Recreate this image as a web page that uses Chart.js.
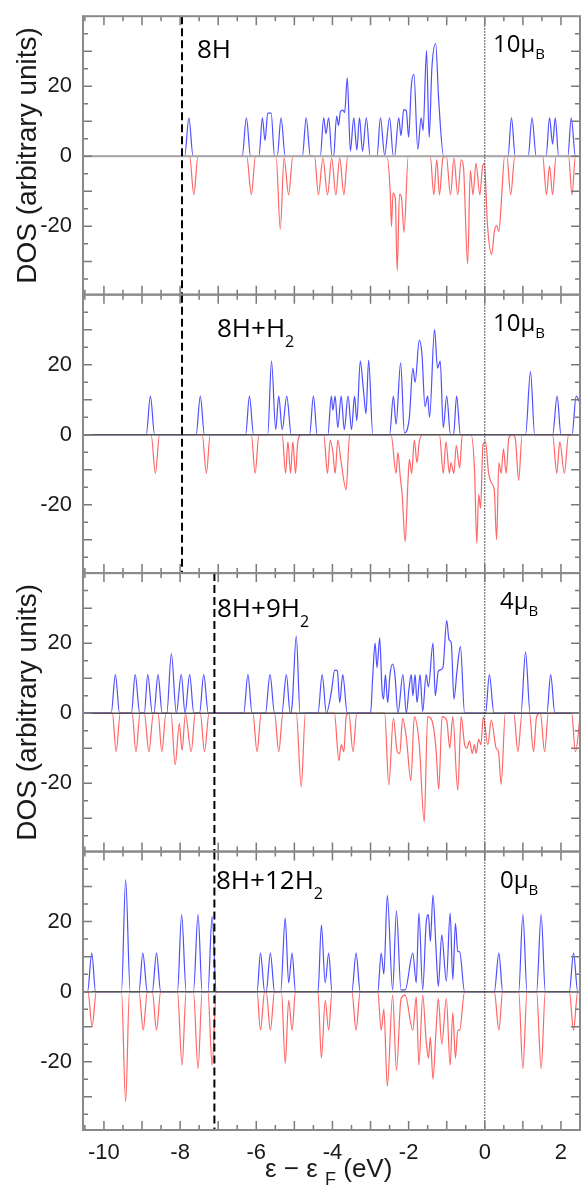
<!DOCTYPE html>
<html>
<head>
<meta charset="utf-8">
<title>DOS</title>
<script src="https://cdn.jsdelivr.net/npm/chart.js@4.4.1/dist/chart.umd.min.js"></script>
<style>
	html, body { margin: 0; padding: 0; background: #fff; }
	#wrap { position: relative; width: 581px; height: 1185px; }
</style>
</head>
<body>
<div id="wrap"><canvas id="dos" width="581" height="1185"></canvas></div>
<script>
// values: [energy (eV), DOS]
const up8H = [[-10.55,0],[-7.88,0],[-7.77,11],[-7.66,0],[-6.37,0],[-6.26,11],[-6.15,0],[-5.93,0],[-5.84,11],[-5.77,4.5],[-5.70,12.3],[-5.61,12.3],[-5.52,0],[-5.45,0],[-5.35,11],[-5.24,0],[-4.79,0],[-4.69,11],[-4.58,0],[-4.32,0],[-4.23,11],[-4.17,6.5],[-4.10,11],[-4.01,0],[-3.97,0],[-3.89,11.5],[-3.84,8.8],[-3.79,12.8],[-3.73,13.2],[-3.68,12.5],[-3.61,22.4],[-3.53,1.5],[-3.44,11],[-3.36,1.8],[-3.29,11],[-3.21,1.5],[-3.11,11],[-3.01,0],[-2.83,0],[-2.74,11],[-2.63,0.3],[-2.50,11],[-2.40,0],[-2.37,0],[-2.26,11],[-2.20,5.9],[-2.13,13.3],[-2.06,13],[-2.00,5.5],[-1.93,20],[-1.86,23.4],[-1.76,2],[-1.67,11],[-1.62,7.4],[-1.53,30.2],[-1.46,5.4],[-1.39,25],[-1.29,32.2],[-1.21,16],[-1.08,0],[0.61,0],[0.70,11],[0.80,0],[1.14,0],[1.24,11],[1.35,0],[1.61,0],[1.70,11],[1.78,3.5],[1.85,11],[1.94,0],[2.18,0],[2.27,11],[2.38,0],[2.5,0]];
const down8H = [[-10.55,0],[-7.75,0],[-7.64,-11],[-7.53,0],[-6.25,0],[-6.13,-11],[-6.02,0],[-5.48,0],[-5.37,-20.8],[-5.27,-0.5],[-5.15,-11],[-5.04,0],[-4.47,0],[-4.37,-11],[-4.25,-0.5],[-4.13,-11],[-4.02,-0.5],[-3.91,-11],[-3.81,-0.5],[-3.70,-11],[-3.60,0],[-2.57,0],[-2.48,-10.8],[-2.45,-20],[-2.41,-10.5],[-2.35,-12],[-2.30,-32.7],[-2.24,-10.8],[-2.19,-11.5],[-2.12,-21.7],[-2.01,0],[-1.43,0],[-1.34,-11],[-1.26,-1],[-1.19,-11],[-1.10,-0.5],[-1.01,0],[-0.90,-11],[-0.81,-0.5],[-0.71,-11],[-0.62,-1],[-0.56,-3],[-0.45,-30.8],[-0.38,-4],[-0.31,-11],[-0.23,-2],[-0.13,-11],[-0.06,-3],[-0.01,-2],[0.07,-19.5],[0.18,-28],[0.25,-21.5],[0.31,-19.8],[0.37,-21.5],[0.44,-12],[0.52,0],[0.58,0],[0.68,-11],[0.79,0],[1.52,0],[1.62,-11],[1.70,-2.7],[1.78,-11],[1.87,0],[2.20,0],[2.29,-11],[2.38,0],[2.5,0]];

const up8H_H2 = [[-10.55,0],[-8.89,0],[-8.78,11],[-8.67,0],[-7.58,0],[-7.47,11],[-7.36,0],[-6.28,0],[-6.18,11],[-6.07,0],[-5.70,0],[-5.60,21],[-5.49,1.5],[-5.41,11],[-5.32,1.5],[-5.20,11],[-5.08,0],[-4.60,0],[-4.50,11],[-4.40,0],[-4.12,0],[-4.03,11],[-3.99,7],[-3.93,11],[-3.86,2],[-3.77,11],[-3.69,1.5],[-3.59,11],[-3.50,1.5],[-3.42,11],[-3.36,4],[-3.27,21],[-3.18,12],[-3.12,6],[-3.05,21.3],[-2.94,0],[-2.50,0],[-2.40,11],[-2.33,3],[-2.21,20.5],[-2.11,0.5],[-1.98,5],[-1.89,19],[-1.83,15],[-1.72,27],[-1.65,23],[-1.57,8],[-1.50,11],[-1.45,5],[-1.32,30],[-1.24,19],[-1.17,21],[-1.09,2],[-1.00,11],[-0.90,0],[-0.82,0],[-0.74,11],[-0.64,0],[1.07,0],[1.20,18],[1.31,0],[1.78,0],[1.90,11],[2.00,0],[2.29,0],[2.40,11],[2.5,9]];
const down8H_H2 = [[-10.55,0],[-8.76,0],[-8.65,-11],[-8.54,0],[-7.42,0],[-7.31,-11],[-7.21,0],[-6.13,0],[-6.03,-11],[-5.93,0],[-5.32,0],[-5.23,-11],[-5.17,-2],[-5.10,-11],[-5.04,-2],[-4.97,-11],[-4.91,-2],[-4.82,0],[-4.23,0],[-4.13,-11],[-4.06,-1.5],[-3.99,-5],[-3.93,-11],[-3.86,-1.5],[-3.77,-8],[-3.64,-15.7],[-3.55,0],[-2.46,0],[-2.33,-11],[-2.28,-5],[-2.22,-12],[-2.17,-17],[-2.09,-30.5],[-2.02,-14],[-1.98,-7],[-1.92,-11],[-1.85,-1.5],[-1.78,-8],[-1.72,-2],[-1.63,0],[-1.19,0],[-1.09,-11],[-1.02,-2],[-0.93,-11],[-0.89,-8],[-0.81,-11],[-0.75,-3],[-0.66,-9.5],[-0.59,0],[-0.36,0],[-0.27,-10],[-0.21,-31],[-0.16,-17],[-0.11,-21],[-0.05,-3],[0.02,-2],[0.10,-11],[0.19,-14],[0.25,-16],[0.31,-30],[0.37,-8],[0.43,-11],[0.49,-4],[0.56,-11],[0.63,-1],[0.72,0],[0.80,-1],[0.89,-13],[0.98,0],[1.78,0],[1.89,-11],[1.97,-2],[2.09,-11],[2.20,0],[2.5,0]];

const up8H_9H2 = [[-10.55,0],[-9.81,0],[-9.70,11],[-9.59,0],[-9.28,0],[-9.18,11],[-9.06,0],[-8.94,0],[-8.85,11],[-8.73,0],[-8.69,0],[-8.58,11],[-8.47,0],[-8.35,0],[-8.23,17],[-8.10,0],[-7.97,11],[-7.87,0],[-7.75,11],[-7.64,0],[-7.49,0],[-7.38,11],[-7.26,0],[-6.33,0],[-6.22,11],[-6.11,0],[-5.76,0],[-5.64,11],[-5.52,0],[-5.33,0],[-5.21,11],[-5.11,0],[-5.06,2],[-4.95,22],[-4.85,0],[-4.38,0],[-4.27,11],[-4.16,0],[-4.03,6],[-3.94,12.3],[-3.87,12],[-3.81,3],[-3.73,11],[-3.61,0],[-3.00,0],[-2.94,11],[-2.88,20],[-2.83,13],[-2.76,21.5],[-2.70,7],[-2.66,4],[-2.61,11],[-2.55,3],[-2.49,11],[-2.42,14],[-2.36,11],[-2.28,0],[-2.15,11],[-2.06,0],[-1.99,7],[-1.93,11],[-1.89,5],[-1.83,11],[-1.78,3],[-1.70,11],[-1.63,0.5],[-1.54,11],[-1.48,7.5],[-1.36,20],[-1.30,5],[-1.22,12],[-1.10,13],[-1.00,26.5],[-0.94,21],[-0.88,20],[-0.81,4],[-0.73,12],[-0.64,19],[-0.53,0],[0.02,0],[0.12,11],[0.24,0],[0.95,0],[1.07,17.5],[1.19,0],[1.63,0],[1.73,11],[1.84,0],[2.5,0]];
const down8H_9H2 = [[-10.55,0],[-9.78,0],[-9.68,-11],[-9.57,0],[-9.26,0],[-9.16,-11],[-9.05,0],[-8.94,0],[-8.82,-11],[-8.70,0],[-8.58,0],[-8.48,-11],[-8.37,0],[-8.24,0],[-8.13,-14.7],[-8.02,-3],[-7.95,-10.5],[-7.86,-0.3],[-7.71,-11],[-7.60,0],[-7.47,0],[-7.36,-11],[-7.24,0],[-6.09,0],[-5.98,-11],[-5.87,0],[-5.52,0],[-5.41,-11],[-5.30,0],[-4.95,0],[-4.82,-21],[-4.71,0],[-3.95,0],[-3.83,-13.5],[-3.77,-9],[-3.70,-11],[-3.64,-1],[-3.57,0],[-3.46,-11],[-3.36,0],[-2.63,0],[-2.52,-20.5],[-2.40,-1.5],[-2.30,-11],[-2.23,-11.5],[-2.16,-1.5],[-2.06,-7],[-1.94,-19.3],[-1.85,-1],[-1.72,-9],[-1.59,-31],[-1.50,-1],[-1.39,-2],[-1.28,-10.3],[-1.21,-21.7],[-1.12,-1],[-1.00,-2],[-0.92,-10],[-0.84,-1],[-0.71,-22],[-0.62,-1],[-0.53,-9],[-0.47,-10],[-0.40,-8],[-0.33,-11.5],[-0.27,-9],[-0.23,-11.5],[-0.16,-7.5],[-0.10,-9],[-0.04,-1],[0.08,-9],[0.17,-2],[0.30,-10],[0.36,-11],[0.43,-20.3],[0.54,0],[0.76,0],[0.87,-11],[0.98,0],[1.17,0],[1.28,-11],[1.36,-1],[1.46,0],[1.57,-11],[1.67,0],[2.28,0],[2.38,-11],[2.48,-3],[2.5,0]];

const up8H_12H2 = [[-10.55,0],[-10.43,0],[-10.32,11],[-10.22,0],[-9.54,0],[-9.43,32],[-9.31,0],[-9.08,0],[-8.98,11],[-8.86,0],[-8.73,0],[-8.62,11],[-8.51,0],[-8.07,0],[-7.96,22],[-7.84,0],[-7.65,0],[-7.53,22],[-7.42,0],[-7.27,0],[-7.16,21.5],[-7.05,0],[-5.98,0],[-5.89,11],[-5.78,0],[-5.74,0],[-5.63,11],[-5.52,0],[-5.36,0],[-5.24,21],[-5.15,2.5],[-5.06,11],[-4.97,0],[-4.38,0],[-4.29,19],[-4.19,2.5],[-4.10,11],[-4.01,0],[-3.49,0],[-3.38,11],[-3.27,0],[-2.81,0],[-2.72,11],[-2.65,5],[-2.56,27.5],[-2.42,0.5],[-2.32,23],[-2.20,0.5],[-2.09,0.5],[-1.89,11],[-1.80,2.5],[-1.73,22.4],[-1.63,0.5],[-1.54,19.5],[-1.48,22],[-1.43,14.3],[-1.36,27.6],[-1.28,12],[-1.22,1.5],[-1.13,16.2],[-1.01,3],[-0.91,22.4],[-0.84,3.5],[-0.77,19.5],[-0.71,11.5],[-0.66,11.4],[-0.53,0],[0.25,0],[0.37,11],[0.47,0],[0.89,0],[1.00,22],[1.11,0],[1.36,0],[1.48,22],[1.59,0],[2.22,0],[2.33,11],[2.44,0],[2.5,0]];
const down8H_12H2 = [[-10.55,0],[-10.42,0],[-10.31,-10],[-10.20,0],[-9.54,0],[-9.43,-31.5],[-9.33,0],[-9.08,0],[-8.97,-11],[-8.86,0],[-8.73,0],[-8.62,-11],[-8.51,0],[-8.07,0],[-7.95,-21],[-7.84,0],[-7.65,0],[-7.53,-22],[-7.42,0],[-7.27,0],[-7.16,-21],[-7.05,0],[-5.98,0],[-5.89,-11],[-5.78,0],[-5.74,0],[-5.63,-11],[-5.52,0],[-5.34,0],[-5.24,-20.5],[-5.15,-2.5],[-5.06,-11],[-4.97,0],[-4.38,0],[-4.29,-19],[-4.19,-2.5],[-4.10,-11],[-4.01,0],[-3.49,0],[-3.38,-11],[-3.27,0],[-2.81,0],[-2.72,-11],[-2.65,-5],[-2.56,-27],[-2.42,-1],[-2.32,-22.5],[-2.20,-2],[-2.09,-1],[-1.89,-11],[-1.80,-1.5],[-1.73,-21],[-1.63,-1],[-1.54,-14],[-1.48,-19],[-1.43,-13],[-1.36,-25],[-1.28,-11],[-1.22,-2],[-1.13,-15],[-1.01,-2],[-0.91,-21],[-0.84,-6],[-0.77,-19],[-0.71,-11],[-0.66,-11],[-0.53,0],[0.25,0],[0.37,-11],[0.47,0],[0.89,0],[1.00,-22],[1.11,0],[1.36,0],[1.48,-22],[1.59,0],[2.22,0],[2.33,-11],[2.44,0],[2.5,0]];

const spinUp = [up8H, up8H_H2, up8H_9H2, up8H_12H2];
const spinDown = [down8H, down8H_H2, down8H_9H2, down8H_12H2];

const xTickLabels = [-10, -8, -6, -4, -2, 0, 2];
const yTickLabels = [-20, 0, 20];
const energyRange = [-10.55, 2.5];
const dosRange = [-39.5, 40];

// [text, subscript?]
const panelFormulas = [
	[["8H", 0]],
	[["8H+H", 0], ["2", 1]],
	[["8H+9H", 0], ["2", 1]],
	[["8H+12H", 0], ["2", 1]],
];
const panelMoments = ["10", "10", "4", "0"];
const panelCutoffs = [-7.95, -7.95, -7.1, -7.1];

const tickFont = { family: "'Liberation Sans', Arial, sans-serif", size: 22 };
const labelFamily = "'Open Sans', sans-serif";

function drawPieces(ctx, family, pieces, x, y, size, subSize, subDrop) {
	ctx.textBaseline = "alphabetic";
	ctx.textAlign = "left";
	pieces.forEach(function ([text, sub]) {
		ctx.font = (sub ? subSize : size) + "px " + family;
		ctx.fillText(text, x, sub ? y + subDrop : y);
		x += ctx.measureText(text).width;
	});
}

const panelDecor = {
	id: "panelDecor",
	afterDatasetsDraw(chart) {
		const { ctx, scales, chartArea } = chart;
		const xs = scales.x;
		const formulaX = [197, 217, 217, 216];
		const formulaDrop = [42, 42, 44, 37];
		const momentX = [493, 493, 500, 500];

		// zero lines on top of the curves
		for (let i = 0; i < 4; i++) {
			const y0 = scales["y" + (i + 1)].getPixelForValue(0);
			ctx.save();
			ctx.strokeStyle = i === 0 ? "#a8a8a8" : "#555";
			ctx.lineWidth = i === 0 ? 2 : 1.5;
			ctx.beginPath();
			ctx.moveTo(xs.left, y0);
			ctx.lineTo(xs.right, y0);
			ctx.stroke();
			ctx.restore();
		}

		ctx.save();
		// Fermi level, dotted
		const xf = xs.getPixelForValue(0);
		ctx.strokeStyle = "#222";
		ctx.lineWidth = 1;
		ctx.setLineDash([1.5, 1.5]);
		ctx.beginPath();
		ctx.moveTo(xf, chartArea.top);
		ctx.lineTo(xf, chartArea.bottom);
		ctx.stroke();
		ctx.restore();

		for (let i = 0; i < 4; i++) {
			const ys = scales["y" + (i + 1)];
			const top = ys.top, bottom = ys.bottom;

			// dashed cutoff
			ctx.save();
			const xc = xs.getPixelForValue(panelCutoffs[i]);
			ctx.strokeStyle = "#000";
			ctx.lineWidth = 2;
			ctx.setLineDash([8, 4]);
			ctx.beginPath();
			ctx.moveTo(xc, top);
			ctx.lineTo(xc, bottom);
			ctx.stroke();
			ctx.restore();

			// ticks, pointing inwards
			ctx.save();
			ctx.strokeStyle = "#7a7a7a";
			ctx.lineWidth = 1.5;
			ctx.beginPath();
			for (let k = -21; k <= 5; k++) {
				const px = xs.getPixelForValue(k / 2);
				const len = k % 2 === 0 ? 9 : 5;
				ctx.moveTo(px, top);
				ctx.lineTo(px, top + len);
				ctx.moveTo(px, bottom);
				ctx.lineTo(px, bottom - len);
			}
			for (let v = -35; v <= 35; v += 5) {
				const py = ys.getPixelForValue(v);
				const len = v % 10 === 0 ? 9 : 5;
				ctx.moveTo(xs.left, py);
				ctx.lineTo(xs.left + len, py);
				ctx.moveTo(xs.right, py);
				ctx.lineTo(xs.right - len, py);
			}
			ctx.stroke();
			ctx.strokeStyle = "#8a8a8a";
			ctx.lineWidth = 2;
			ctx.strokeRect(xs.left, top, xs.right - xs.left, bottom - top);
			ctx.restore();

			// panel texts
			ctx.save();
			ctx.fillStyle = "#000";
			drawPieces(ctx, labelFamily, panelFormulas[i], formulaX[i], top + formulaDrop[i], 26, 16, 10);
			drawPieces(ctx, labelFamily, [[panelMoments[i] + "\u03bc", 0], ["B", 1]], momentX[i], top + 36, 24, 15, 7);
			ctx.restore();
		}

		// x axis title with subscript
		ctx.save();
		ctx.fillStyle = "#1a1a1a";
		drawPieces(ctx, tickFont.family, [["\u03b5 \u2212 \u03b5 ", 0], ["F", 1], [" (eV)", 0]], 265, 1177, 26, 18, 8);
		ctx.restore();
	},
};

const datasets = [];
for (let i = 0; i < 4; i++) {
	datasets.push({
		label: "up" + i,
		data: spinUp[i].map(([x, y]) => ({ x, y })),
		yAxisID: "y" + (i + 1),
		borderColor: "rgba(60, 60, 255, 0.9)",
		borderWidth: 1.2,
		pointRadius: 0,
		cubicInterpolationMode: "monotone",
		fill: false,
	});
	datasets.push({
		label: "down" + i,
		data: spinDown[i].map(([x, y]) => ({ x, y })),
		yAxisID: "y" + (i + 1),
		borderColor: "rgba(255, 85, 85, 0.9)",
		borderWidth: 1.2,
		pointRadius: 0,
		cubicInterpolationMode: "monotone",
		fill: false,
	});
}

const scales = {
	x: {
		type: "linear",
		min: energyRange[0],
		max: energyRange[1],
		grid: { display: false },
		border: { display: false },
		afterBuildTicks: (axis) => {
			axis.ticks = xTickLabels.map((v) => ({ value: v }));
		},
		ticks: { font: tickFont, color: "#1a1a1a", padding: 2, maxRotation: 0, autoSkip: false },
		afterFit: (axis) => {
			axis.height = 55;
		},
	},
};
for (let i = 0; i < 4; i++) {
	scales["y" + (i + 1)] = {
		type: "linear",
		position: "left",
		stack: "dos",
		stackWeight: 1,
		weight: 4 - i,
		min: dosRange[0],
		max: dosRange[1],
		grid: { display: false },
		border: { display: false },
		afterBuildTicks: (axis) => {
			axis.ticks = yTickLabels.map((v) => ({ value: v }));
		},
		ticks: { font: tickFont, color: "#1a1a1a", padding: 3 },
		title: {
			display: i === 0 || i === 2,
			text: "DOS (arbitrary units)",
			font: { family: tickFont.family, size: 28 },
			color: "#1a1a1a",
			padding: { top: 11, bottom: 0 },
		},
		afterFit: (axis) => {
			axis.width = 83;
		},
	};
}

new Chart(document.getElementById("dos").getContext("2d"), {
	type: "line",
	data: { datasets: datasets },
	options: {
		responsive: false,
		animation: false,
		events: [],
		layout: { padding: { top: 16, right: 1, left: 0, bottom: 0 } },
		scales: scales,
		plugins: {
			legend: { display: false },
			tooltip: { enabled: false },
		},
	},
	plugins: [panelDecor],
});
</script>
</body>
</html>
